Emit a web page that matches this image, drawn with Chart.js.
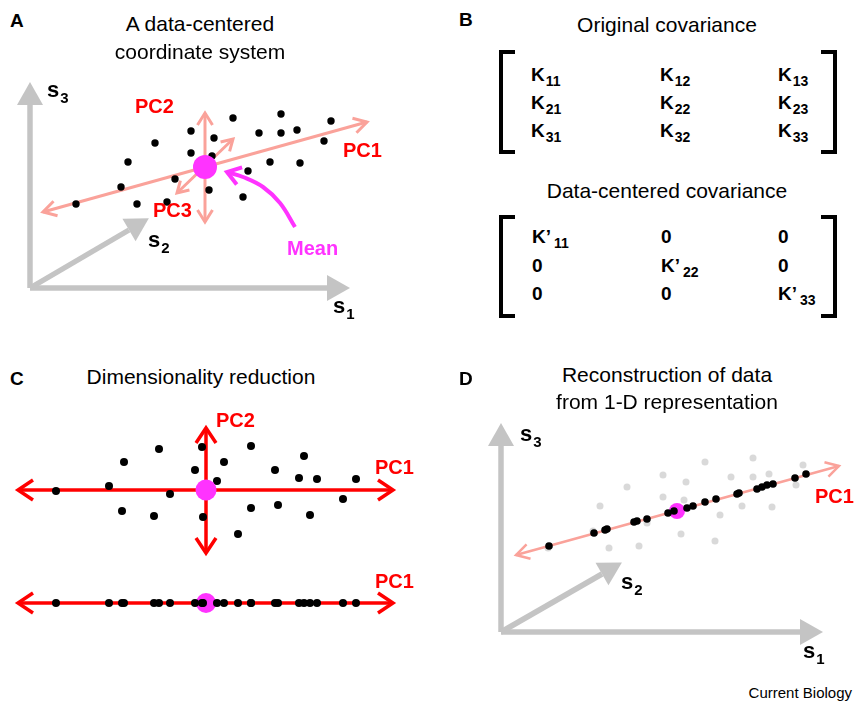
<!DOCTYPE html>
<html>
<head>
<meta charset="utf-8">
<script src="https://cdn.jsdelivr.net/npm/chart.js@4.4.1/dist/chart.umd.min.js"></script>
<style>
  body { margin: 0; width: 854px; height: 701px; position: relative; background: #fff; overflow: hidden;
         font-family: "Liberation Sans", Arial, sans-serif; }
  canvas { position: absolute; }
  .t { position: absolute; white-space: nowrap; line-height: 1; color: #000; }
  .br { position: absolute; box-sizing: border-box; width: 16px; border: 4px solid #000; }
</style>
</head>
<body>
<canvas id="chartA" width="430" height="280" style="left:0;top:60px"></canvas>
<canvas id="chartC" width="430" height="175" style="left:0;top:395px"></canvas>
<canvas id="chartC1" width="430" height="55" style="left:0;top:570px"></canvas>
<canvas id="chartD" width="424" height="270" style="left:430px;top:410px"></canvas>
<script>
// data points seen in the s1/s2/s3 view (panels A and D, grey in D)
const dataX = [46, 91, 98, 107, 125, 137, 145, 161, 161, 184, 182, 179, 203, 218, 213, 229, 240, 251, 251, 267, 270, 294, 301];
const dataY = [84, 101, 126, 84, 145, 86, 109, 157, 135, 150, 132, 98, 170, 117, 91, 155, 126, 174, 155, 158, 125, 147, 167];
const meanXY = [175, 121];

// same points in PC coordinates (panel C)
const pc1 = [-150, -97, -82, -84, -47, -52, -36, -11, -4, -3, 11, 18, 32, 45, 45, 69, 72, 93, 98, 111, 104, 137, 150];
const pc2 = [-1, 4, 28, -21, 41, -26, -4, 20, 43, -27, 9, 28, -44, 44, -18, 20, -15, 12, 34, 11, -25, -9, 11];

// reconstruction from PC1 only (panel D, black)
const reconX = [48, 93, 104, 106, 133, 136, 146, 167, 173, 186, 192, 204, 215, 236, 238, 256, 261, 266, 272, 294, 305];
const reconY = [86, 99, 102, 103, 110, 111, 113, 119, 121, 124, 126, 130, 133, 138, 139, 143, 145, 147, 148, 154, 158];

// axes and PC directions
const axesA = { s1: [[0, 0], [297, 0]], s2: [[0, 0], [99, 58]], s3: [[0, 0], [0, 183]] };
const axesD = { s1: [[0, 0], [299, 0]], s2: [[0, 0], [101, 58]], s3: [[0, 0], [0, 186]] };
const pcA = { pc1: [[13, 76], [337, 166]], pc2: [[175, 66], [175, 175]], pc3: [[147, 95], [203, 149]] };
const pcD1 = [[15, 77], [338, 166]];
const pcC = { pc1: [[-188, 0], [187, 0]], pc2: [[0, -63], [0, 62]] };
const meanArrow = [[265, 61], [250, 85], [233, 101], [213, 111], [197, 116]];

// panel B matrices
const covOrig = [['11', '12', '13'], ['21', '22', '23'], ['31', '32', '33']];
const covCentered = [['11', '0', '0'], ['0', '22', '0'], ['0', '0', '33']];

const GREY = '#c4c4c4', SALMON = 'rgb(250,162,154)', RED = '#ff0000', MAGENTA = '#ff33ff';
const FONT = '"Liberation Sans", Arial, sans-serif';

const xy = (xs, ys) => xs.map((x, i) => ({ x: x, y: ys[i] }));
const seg = a => a.map(p => ({ x: p[0], y: p[1] }));

function dots(data, color, r, order) {
  return { data: data, backgroundColor: color, pointRadius: r, pointBorderWidth: 0, showLine: false, order: order };
}
function arrow(data, color, w, head, L, W, both, order) {
  return { data: data, borderColor: color, borderWidth: w, showLine: true, pointRadius: 0,
           head: head, headLen: L, headWidth: W, both: both, order: order };
}

function drawHead(ctx, p, q, ds) {
  const a = Math.atan2(p.y - q.y, p.x - q.x);
  const L = ds.headLen, h = ds.headWidth / 2;
  const nx = -Math.sin(a), ny = Math.cos(a);
  ctx.save();
  if (ds.head === 'solid') {
    ctx.beginPath();
    ctx.moveTo(p.x + L * Math.cos(a), p.y + L * Math.sin(a));
    ctx.lineTo(p.x + h * nx, p.y + h * ny);
    ctx.lineTo(p.x - h * nx, p.y - h * ny);
    ctx.closePath();
    ctx.fillStyle = ds.borderColor;
    ctx.fill();
  } else {
    const bx = p.x - L * Math.cos(a), by = p.y - L * Math.sin(a);
    ctx.beginPath();
    ctx.moveTo(bx + h * nx, by + h * ny);
    ctx.lineTo(p.x, p.y);
    ctx.lineTo(bx - h * nx, by - h * ny);
    ctx.strokeStyle = ds.borderColor;
    ctx.lineWidth = ds.borderWidth;
    ctx.lineJoin = 'miter';
    ctx.stroke();
  }
  ctx.restore();
}

const arrowHeads = {
  id: 'arrowHeads',
  afterDatasetDraw(chart, args) {
    const ds = chart.data.datasets[args.index];
    if (!ds.head) return;
    const pts = args.meta.data, n = pts.length;
    drawHead(chart.ctx, pts[n - 1], pts[n - 2], ds);
    if (ds.both) drawHead(chart.ctx, pts[0], pts[1], ds);
  }
};

function labelsPlugin(items) {
  return {
    id: 'labels',
    afterDraw(chart) {
      const ctx = chart.ctx, sx = chart.scales.x, sy = chart.scales.y;
      ctx.save();
      ctx.textBaseline = 'alphabetic';
      items.forEach(it => {
        const px = sx.getPixelForValue(it.x), py = sy.getPixelForValue(it.y);
        ctx.fillStyle = it.color || '#000';
        ctx.font = 'bold ' + it.size + 'px ' + FONT;
        ctx.fillText(it.text, px, py);
        if (it.sub) {
          const w = ctx.measureText(it.text).width;
          ctx.font = 'bold 15px ' + FONT;
          ctx.fillText(it.sub, px + w + 1, py + 6);
        }
      });
      ctx.restore();
    }
  };
}

function makeChart(id, xr, yr, datasets, items) {
  return new Chart(document.getElementById(id), {
    type: 'scatter',
    data: { datasets: datasets },
    options: {
      responsive: false, animation: false, devicePixelRatio: 1, events: [],
      layout: { padding: 0, autoPadding: false },
      plugins: { legend: { display: false }, tooltip: { enabled: false } },
      scales: {
        x: { type: 'linear', display: false, min: xr[0], max: xr[1] },
        y: { type: 'linear', display: false, min: yr[0], max: yr[1] }
      }
    },
    plugins: [arrowHeads, labelsPlugin(items)]
  });
}

function axisSets(ax, order) {
  return ['s1', 's2', 's3'].map(k => arrow(seg(ax[k]), GREY, 5.5, 'solid', 23, 26, false, order));
}

// Panel A
makeChart('chartA', [-30, 400], [-52, 228], [
  dots([{ x: meanXY[0], y: meanXY[1] }], MAGENTA, 12, 0),
  dots(xy(dataX, dataY), '#000', 3.7, 1),
  Object.assign(arrow(seg(meanArrow), MAGENTA, 4, 'open', 13, 18, false, 2), { tension: 0.4 }),
  arrow(seg(pcA.pc1), SALMON, 3, 'open', 13, 15, true, 3),
  arrow(seg(pcA.pc2), SALMON, 3, 'open', 12, 15, true, 3),
  arrow(seg(pcA.pc3), SALMON, 3, 'open', 11, 13, true, 3),
  ...axisSets(axesA, 5)
], [
  { text: 'PC2', x: 105, y: 175, size: 20, color: RED },
  { text: 'PC1', x: 313, y: 131, size: 20, color: RED },
  { text: 'PC3', x: 123, y: 71, size: 20, color: RED },
  { text: 'Mean', x: 257, y: 33, size: 20, color: MAGENTA },
  { text: 's', sub: '3', x: 17, y: 191, size: 22 },
  { text: 's', sub: '2', x: 118, y: 41, size: 22 },
  { text: 's', sub: '1', x: 303, y: -25, size: 22 }
]);

// Panel C, 2-D in PC space
makeChart('chartC', [-206, 224], [-80, 95], [
  dots([{ x: 0, y: 0 }], MAGENTA, 10.5, 0),
  dots(xy(pc1, pc2), '#000', 4, 1),
  arrow(seg(pcC.pc1), RED, 3.5, 'open', 15, 20, true, 2),
  arrow(seg(pcC.pc2), RED, 3.5, 'open', 15, 20, true, 2)
], [
  { text: 'PC2', x: 10, y: 63, size: 20, color: RED },
  { text: 'PC1', x: 169, y: 16, size: 20, color: RED }
]);

// Panel C, projection on PC1
makeChart('chartC1', [-206, 224], [-22, 33], [
  dots(pc1.map(v => ({ x: v, y: 0 })), '#000', 4, 0),
  dots([{ x: 0, y: 0 }], MAGENTA, 10, 1),
  arrow(seg(pcC.pc1), RED, 3.5, 'open', 15, 20, true, 2)
], [
  { text: 'PC1', x: 169, y: 15, size: 20, color: RED }
]);

// Panel D
makeChart('chartD', [-71, 353], [-48, 222], [
  dots(xy(reconX, reconY), '#000', 3.8, 0),
  dots([{ x: meanXY[0] + 1, y: meanXY[1] }], MAGENTA, 8, 1),
  arrow(seg(pcD1), SALMON, 2.5, 'open', 13, 15, true, 2),
  dots(xy(dataX.map(v => v + 1), dataY), '#d9d9d9', 3.5, 3),
  ...axisSets(axesD, 4)
], [
  { text: 'PC1', x: 314, y: 129, size: 20, color: RED },
  { text: 's', sub: '3', x: 19, y: 191, size: 22 },
  { text: 's', sub: '2', x: 120, y: 43, size: 22 },
  { text: 's', sub: '1', x: 302, y: -26, size: 22 }
]);

// HTML text: titles, panel letters, matrices
function addText(html, x, base, size, bold, align) {
  const el = document.createElement('div');
  el.className = 't';
  el.innerHTML = html;
  el.style.fontSize = size + 'px';
  el.style.fontWeight = bold ? 'bold' : 'normal';
  el.style.top = (base - 0.8465 * size) + 'px';
  if (align === 'center') { el.style.left = x + 'px'; el.style.transform = 'translateX(-50%)'; }
  else if (align === 'right') { el.style.right = (854 - x) + 'px'; }
  else el.style.left = x + 'px';
  document.body.appendChild(el);
}

[['A data-centered', 200, 31], ['coordinate system', 200, 59],
 ['Original covariance', 667, 32], ['Data-centered covariance', 667, 198],
 ['Dimensionality reduction', 201, 384],
 ['Reconstruction of data', 667, 382], ['from 1-D representation', 667, 409]
].forEach(t => addText(t[0], t[1], t[2], 21, false, 'center'));

[['A', 10, 27], ['B', 459, 26], ['C', 10, 385], ['D', 459, 385]]
  .forEach(t => addText(t[0], t[1], t[2], 19, true));

addText('Current Biology', 852, 698, 15, false, 'right');

function cell(sub, prime) {
  const s = '<span style="font-size:14px;position:relative;top:5px;margin-left:' + (prime ? 3 : 1) + 'px">' + sub + '</span>';
  return 'K' + (prime ? '\u2019' : '') + s;
}
function matrix(m, cols, rows, prime, top, height) {
  m.forEach((row, r) => row.forEach((v, c) => {
    addText(v === '0' ? '0' : cell(v, prime), cols[c], rows[r], 19, true);
  }));
  const l = document.createElement('div');
  l.className = 'br';
  Object.assign(l.style, { left: '499px', top: top + 'px', height: height + 'px', borderRight: 'none' });
  const rb = document.createElement('div');
  rb.className = 'br';
  Object.assign(rb.style, { left: '821px', top: top + 'px', height: height + 'px', borderLeft: 'none' });
  document.body.appendChild(l);
  document.body.appendChild(rb);
}
matrix(covOrig, [531, 660, 778], [81, 109, 137], false, 50, 104);
matrix(covCentered, [532, 661, 778], [243, 272, 300], true, 215, 103);
</script>
</body>
</html>
